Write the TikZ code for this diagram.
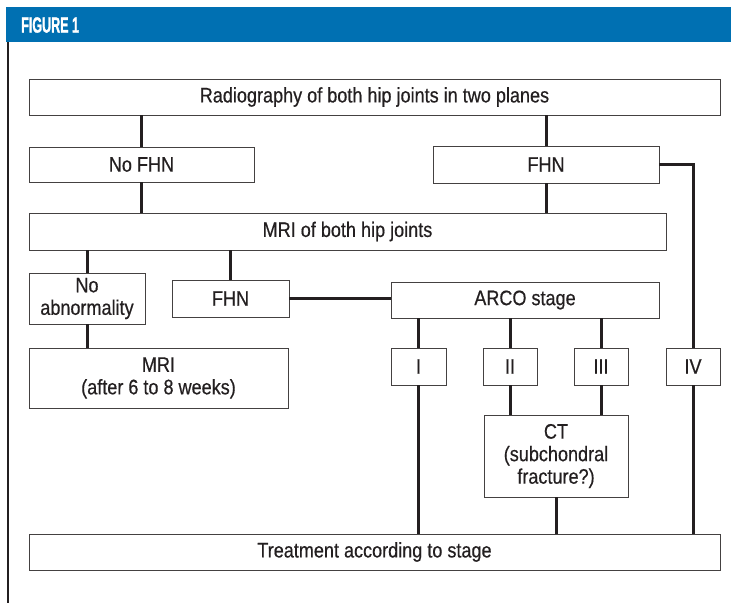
\documentclass[tikz,border=0pt]{standalone}
\usepackage{fontspec}
\setmainfont{Liberation Sans}[FakeStretch=0.86,FakeBold=0.5]
\newfontfamily\headfont{Liberation Sans}[FakeStretch=0.57,FakeBold=1.2]
\usetikzlibrary{positioning}
\definecolor{bandblue}{RGB}{0,112,178}
\definecolor{ink}{RGB}{35,31,32}

\begin{document}
\begin{tikzpicture}[x=1pt,y=-1pt,
  box/.style={draw=ink!85, line width=0.9pt, rectangle, inner sep=0pt, align=center,
    text=ink, font=\fontsize{21}{22.5}\selectfont},
  link/.style={draw=ink, line width=3pt}]
\useasboundingbox (0,0) rectangle (731,603);

% header band and frame
\fill[bandblue] (6,7) rectangle (731,42);
\node[anchor=west, text=white, inner sep=0pt, font=\headfont\bfseries\fontsize{22}{24}\selectfont] (title) at (21,25) {FIGURE 1};
\coordinate (ftop) at (8,42);
\coordinate (fbot) at (8,603);
\draw[ink, line width=2pt] (ftop) -- (fbot);

% boxes
\node[box, minimum width=691pt, minimum height=36pt] (radio) at (374.5,97) {Radiography of both hip joints in two planes};
\node[box, minimum width=225pt, minimum height=35pt] (nofhn) at (141.5,164.5) {No FHN};
\node[box, minimum width=226pt, minimum height=37pt] (fhnA) at (546,164.5) {FHN};
\node[box, minimum width=637pt, minimum height=37pt] (mri) at (347.5,231.5) {MRI of both hip joints};
\node[box, minimum width=116pt, minimum height=51pt] (noabn) at (87,298.5) {No\\abnormality};
\node[box, minimum width=117pt, minimum height=37pt] (fhnB) at (230.5,298.5) {FHN};
\node[box, minimum width=268pt, minimum height=36pt] (arco) at (525,300) {ARCO stage};
\node[box, minimum width=259pt, minimum height=60pt] (mrilater) at (158.5,378) {MRI\\(after 6 to 8 weeks)};
\node[box, minimum width=55pt, minimum height=37pt] (sI) at (418.5,366.5) {I};
\node[box, minimum width=54pt, minimum height=37pt] (sII) at (510,366.5) {II};
\node[box, minimum width=54pt, minimum height=37pt] (sIII) at (601,366.5) {III};
\node[box, minimum width=54pt, minimum height=37pt] (sIV) at (693,366.5) {IV};
\node[box, minimum width=144pt, minimum height=82pt] (ct) at (556,456) {CT\\(subchondral\\fracture?)};
\node[box, minimum width=691pt, minimum height=36pt] (treat) at (374.5,552) {Treatment according to stage};

% connectors
\path[link] (nofhn.north) -- (nofhn.north |- radio.south);
\path[link] (fhnA.north) -- (fhnA.north |- radio.south);
\path[link] (nofhn.south) -- (nofhn.south |- mri.north);
\path[link] (fhnA.south) -- (fhnA.south |- mri.north);
\path[link] (fhnA.east) -| (sIV.north);
\path[link] (noabn.north) -- (noabn.north |- mri.south);
\path[link] (fhnB.north) -- (fhnB.north |- mri.south);
\path[link] (fhnB.east) -- (fhnB.east -| arco.west);
\path[link] (noabn.south) -- (noabn.south |- mrilater.north);
\path[link] (sI.north) -- (sI.north |- arco.south);
\path[link] (sII.north) -- (sII.north |- arco.south);
\path[link] (sIII.north) -- (sIII.north |- arco.south);
\path[link] (sI.south) -- (sI.south |- treat.north);
\path[link] (sII.south) -- (sII.south |- ct.north);
\path[link] (sIII.south) -- (sIII.south |- ct.north);
\path[link] (ct.south) -- (ct.south |- treat.north);
\path[link] (sIV.south) -- (sIV.south |- treat.north);

\end{tikzpicture}
\end{document}
